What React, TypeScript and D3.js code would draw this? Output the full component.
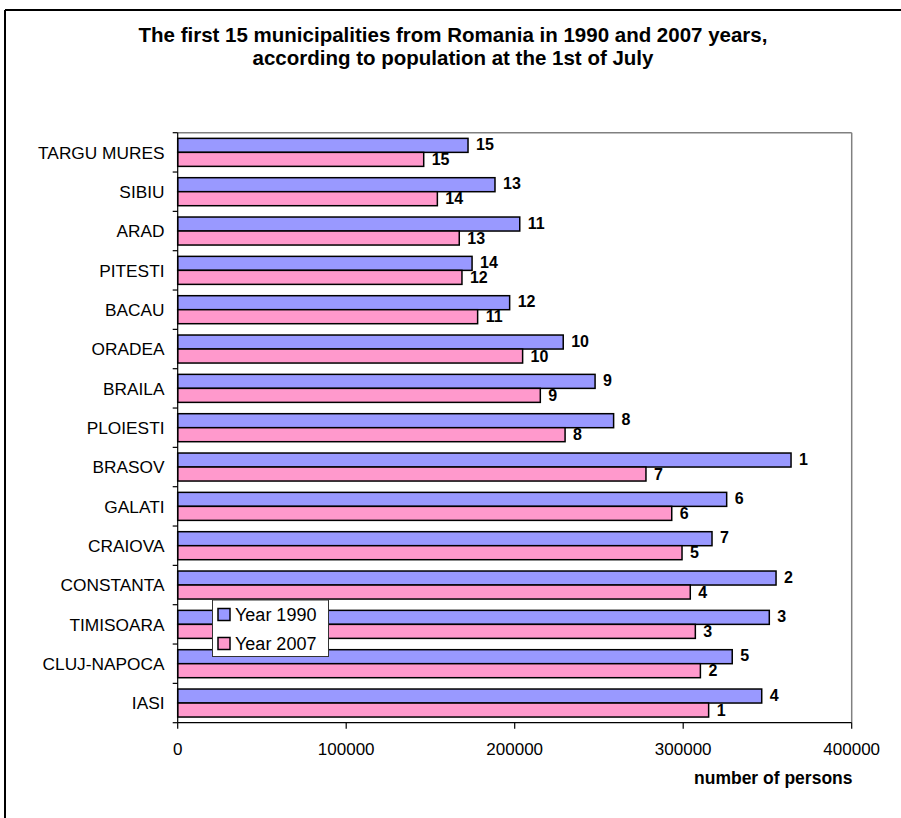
import React from "react";
import * as d3 from "d3";

// Municipalities, listed from the top of the chart downwards
const cities = [
  "TARGU MURES", "SIBIU", "ARAD", "PITESTI", "BACAU", "ORADEA", "BRAILA",
  "PLOIESTI", "BRASOV", "GALATI", "CRAIOVA", "CONSTANTA", "TIMISOARA",
  "CLUJ-NAPOCA", "IASI",
];

// Population at the 1st of July (number of persons)
const pop1990 = [
  172300, 188300, 203000, 174700, 197000, 228800, 247700,
  258700, 364000, 325800, 317100, 355100, 351100, 329100, 346600,
];
const pop2007 = [
  146000, 154100, 167100, 168700, 178000, 204700, 215200,
  229900, 277900, 293200, 299300, 304200, 307200, 310200, 315100,
];

// Rank of each municipality within its year
const rank1990 = [15, 13, 11, 14, 12, 10, 9, 8, 1, 6, 7, 2, 3, 5, 4];
const rank2007 = [15, 14, 13, 12, 11, 10, 9, 8, 7, 6, 5, 4, 3, 2, 1];

const seriesNames = ["Year 1990", "Year 2007"];
const seriesColors = ["#9999FF", "#FF99CC"];
const xTicks = [0, 100000, 200000, 300000, 400000];

const titleLines = [
  "The first 15 municipalities from Romania in 1990 and 2007 years,",
  "according to population at the 1st of July",
];
const xAxisTitle = "number of persons";

const W = 901;
const H = 818;
const plot = { left: 177.7, right: 851.7, top: 132.7, bottom: 722.7 };
const FONT = "'Liberation Sans', Arial, Helvetica, sans-serif";

export default function App() {
  const x = d3.scaleLinear().domain([0, 400000]).range([plot.left, plot.right]);
  const y = d3
    .scaleBand<string>()
    .domain(cities)
    .range([plot.top, plot.bottom])
    .paddingInner(0.288)
    .paddingOuter(0.144);
  const inner = d3
    .scaleBand<number>()
    .domain([0, 1])
    .range([0, y.bandwidth()]);

  const series = [
    { values: pop1990, ranks: rank1990 },
    { values: pop2007, ranks: rank2007 },
  ];

  const step = y.step();
  const catTicks = d3.range(cities.length + 1).map((i) => plot.top + i * step);

  return (
    <svg
      width={W}
      height={H}
      style={{ position: "absolute", left: 0, top: 0, background: "#fff" }}
      fontFamily={FONT}
    >
      <rect x={0} y={0} width={W} height={H} fill="#fff" />
      {/* chart frame: only the left and top edges fall inside the picture */}
      <line x1={5} y1={10} x2={W} y2={10} stroke="#000" strokeWidth={2} />
      <line x1={5} y1={10} x2={5} y2={H} stroke="#000" strokeWidth={2} />

      {/* title */}
      {titleLines.map((t, i) => (
        <text
          key={i}
          x={453}
          y={42 + i * 23}
          textAnchor="middle"
          fontWeight="bold"
          fontSize={20.5}
        >
          {t}
        </text>
      ))}

      {/* plot area border (top and right) */}
      <line x1={plot.left} y1={plot.top} x2={plot.right} y2={plot.top} stroke="#808080" strokeWidth={1.5} />
      <line x1={plot.right} y1={plot.top} x2={plot.right} y2={plot.bottom} stroke="#808080" strokeWidth={1.5} />

      {/* bars */}
      {series.map((s, si) =>
        cities.map((c, ci) => {
          const y0 = (y(c) as number) + (inner(si) as number);
          return (
            <rect
              key={`${si}-${ci}`}
              x={x(0)}
              y={y0}
              width={x(s.values[ci]) - x(0)}
              height={inner.bandwidth()}
              fill={seriesColors[si]}
              stroke="#000"
              strokeWidth={1.5}
            />
          );
        })
      )}

      {/* rank labels */}
      {series.map((s, si) =>
        cities.map((c, ci) => {
          const yc = (y(c) as number) + (inner(si) as number) + inner.bandwidth() / 2;
          return (
            <text
              key={`l-${si}-${ci}`}
              x={x(s.values[ci]) + 8}
              y={yc + 6 - (si === 0 ? 1.5 : 0.3)}
              fontWeight="bold"
              fontSize={16}
            >
              {s.ranks[ci]}
            </text>
          );
        })
      )}

      {/* category axis */}
      <line x1={plot.left} y1={plot.top} x2={plot.left} y2={plot.bottom} stroke="#000" strokeWidth={1.2} />
      {catTicks.map((ty, i) => (
        <line key={`ct-${i}`} x1={plot.left - 5} y1={ty} x2={plot.left} y2={ty} stroke="#000" strokeWidth={1.2} />
      ))}
      {cities.map((c) => (
        <text
          key={`cl-${c}`}
          x={164.5}
          y={(y(c) as number) + y.bandwidth() / 2 + 6.2}
          textAnchor="end"
          fontSize={17.3}
        >
          {c}
        </text>
      ))}

      {/* value axis */}
      <line x1={plot.left} y1={plot.bottom} x2={plot.right} y2={plot.bottom} stroke="#000" strokeWidth={1.2} />
      {xTicks.map((t) => (
        <g key={`xt-${t}`}>
          <line x1={x(t)} y1={plot.bottom} x2={x(t)} y2={plot.bottom + 6} stroke="#000" strokeWidth={1.2} />
          <text x={x(t)} y={755} textAnchor="middle" fontSize={17}>
            {t}
          </text>
        </g>
      ))}
      <text x={852.5} y={784} textAnchor="end" fontWeight="bold" fontSize={17.5}>
        {xAxisTitle}
      </text>

      {/* legend */}
      <g>
        <rect x={212.5} y={600} width={116} height={56.5} fill="#fff" stroke="#333" strokeWidth={1} />
        {seriesNames.map((n, i) => (
          <g key={n}>
            <rect
              x={218}
              y={608.5 + i * 29}
              width={12}
              height={12}
              fill={seriesColors[i]}
              stroke="#000"
              strokeWidth={1.5}
            />
            <text x={235} y={621 + i * 29} fontSize={18}>
              {n}
            </text>
          </g>
        ))}
      </g>
    </svg>
  );
}
